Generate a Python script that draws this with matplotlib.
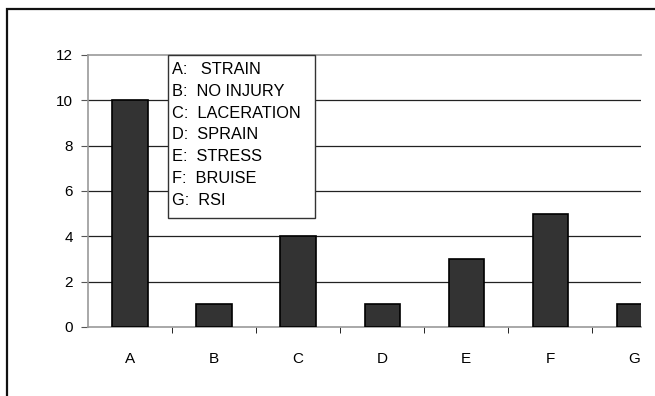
import numpy as np
import matplotlib.pyplot as plt
from matplotlib.patches import Rectangle

# --- Data ---
categories = ['A', 'B', 'C', 'D', 'E', 'F', 'G']
counts = [10, 1, 4, 1, 3, 5, 1]
legend_lines = ['A:   STRAIN', 'B:  NO INJURY', 'C:  LACERATION', 'D:  SPRAIN',
                'E:  STRESS', 'F:  BRUISE', 'G:  RSI']
yticks = [0, 2, 4, 6, 8, 10, 12]

W, H = 655, 396
plt.rcParams['font.family'] = ['Liberation Sans', 'DejaVu Sans']

fig = plt.figure(figsize=(W / 100, H / 100), dpi=100)

# outer chart frame (only left and top edges are visible)
fig.add_artist(Rectangle((7 / W, -0.1), 1.0, 1 - 9 / H + 0.1, transform=fig.transFigure,
                         fill=False, edgecolor='#111111', linewidth=1.6))

ax = fig.add_axes([88 / W, 1 - 327 / H, (641 - 88) / W, (327 - 55) / H])
x = np.arange(len(categories))
ax.bar(x, counts, width=0.42, color='#333333', edgecolor='black', linewidth=1.2, zorder=3)

ax.set_xlim(-0.5, 6.08)
ax.set_ylim(0, 12)
ax.set_yticks(yticks)
ax.set_yticklabels([str(v) for v in yticks], fontsize=11)
ax.set_xticks(x)
ax.set_xticklabels(categories, fontsize=11)
ax.tick_params(axis='x', length=0, pad=18)
ax.set_xticks(np.arange(0.5, 6.0, 1.0), minor=True)
ax.tick_params(axis='x', which='minor', length=4, color='black', direction='out')
ax.tick_params(axis='y', length=5, color='#555555', pad=6)

for v in yticks[1:-1]:
    ax.axhline(v, color='#222222', linewidth=0.9, zorder=1)

for side in ['top', 'left', 'bottom']:
    ax.spines[side].set_color('#999999')
    ax.spines[side].set_linewidth(1.2)
ax.spines['right'].set_visible(False)

# legend box listing what each letter means
fig.add_artist(Rectangle((168 / W, 1 - 218 / H), (315 - 168) / W, (218 - 55) / H,
                         transform=fig.transFigure, facecolor='white',
                         edgecolor='#333333', linewidth=1.0, zorder=5))
for i, line in enumerate(legend_lines):
    fig.text(172 / W, 1 - (69.5 + i * 21.8) / H, line, fontsize=11.8,
             va='center', ha='left', zorder=6)

fig.savefig('out.png', dpi=100)
